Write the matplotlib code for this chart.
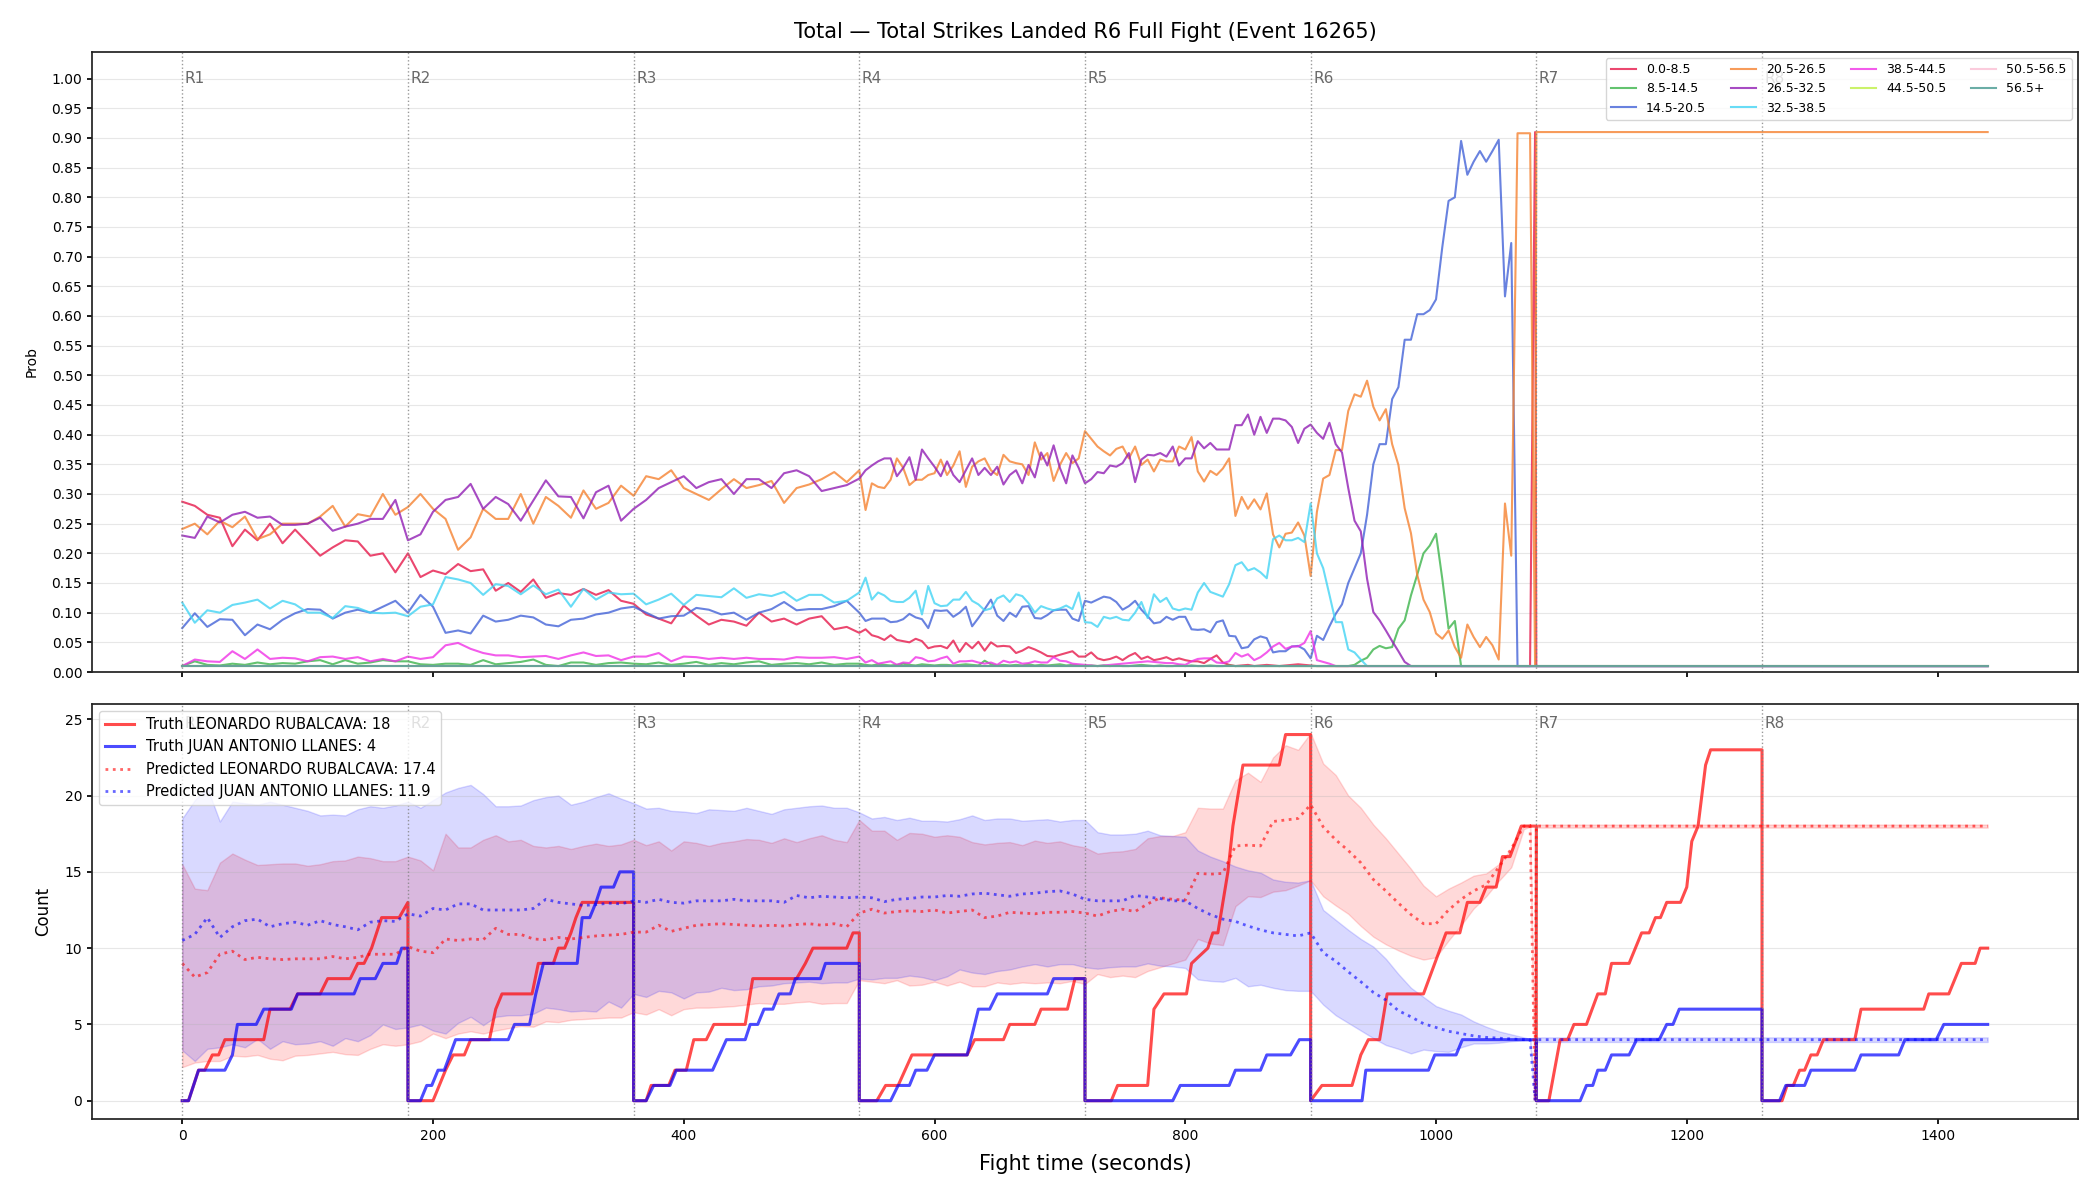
import matplotlib
matplotlib.use('Agg')
import matplotlib.pyplot as plt

plt.rcParams['axes.linewidth'] = 1.25
plt.rcParams['xtick.major.width'] = 1.25
plt.rcParams['ytick.major.width'] = 1.25
plt.rcParams['axes.edgecolor'] = '#222222'

title = 'Total \u2014 Total Strikes Landed R6 Full Fight (Event 16265)'
rounds = [0, 180, 360, 540, 720, 900, 1080, 1260]

bins = ['0.0-8.5', '8.5-14.5', '14.5-20.5', '20.5-26.5', '26.5-32.5',
        '32.5-38.5', '38.5-44.5', '44.5-50.5', '50.5-56.5', '56.5+']
bin_colors = ['#e6194b', '#3cb44b', '#4363d8', '#f58231', '#911eb4',
              '#42d4f4', '#f032e6', '#bfef45', '#fabed4', '#469990']

# probability time grid: 10 s for R1-R3, 5 s afterwards, then the tail
t_prob = list(range(0, 540, 10)) + list(range(540, 1080, 5)) + [1079, 1080, 1440]

p_0_8 = [0.287, 0.28, 0.265, 0.26, 0.212, 0.24, 0.222, 0.25, 0.217, 0.24,
         0.218, 0.196, 0.21, 0.222, 0.22, 0.196, 0.20, 0.168, 0.20, 0.16,
         0.171, 0.165, 0.182, 0.17, 0.173, 0.137, 0.15, 0.135, 0.156, 0.125,
         0.133, 0.13, 0.14, 0.13, 0.138, 0.12, 0.115, 0.097, 0.09, 0.082,
         0.112, 0.095, 0.08, 0.088, 0.085, 0.078, 0.10, 0.085, 0.09, 0.08,
         0.09, 0.094, 0.072, 0.076] + \
        [0.066, 0.072, 0.062, 0.059, 0.054, 0.062, 0.054, 0.052, 0.05, 0.056,
         0.052, 0.04, 0.043, 0.044, 0.04, 0.053, 0.034, 0.049, 0.04, 0.051,
         0.036, 0.05, 0.043, 0.044, 0.043, 0.032, 0.036, 0.042, 0.038, 0.033,
         0.027, 0.026, 0.029, 0.032, 0.035, 0.026, 0.026, 0.033, 0.023, 0.02,
         0.022, 0.026, 0.02, 0.027, 0.032, 0.022, 0.026, 0.02, 0.022, 0.025,
         0.02, 0.023, 0.02, 0.018, 0.018, 0.015, 0.022, 0.028, 0.016, 0.012,
         0.01, 0.011, 0.012, 0.01, 0.011, 0.012, 0.011, 0.01, 0.011, 0.012,
         0.013, 0.012, 0.011, 0.01, 0.01, 0.01, 0.01, 0.01, 0.01, 0.01] + \
        [0.01] * 28 + [0.91, 0.01, 0.01]

p_8_14 = [0.01, 0.018, 0.012, 0.011, 0.014, 0.012, 0.016, 0.013, 0.015, 0.014,
          0.018, 0.02, 0.013, 0.02, 0.014, 0.016, 0.02, 0.018, 0.018, 0.013,
          0.012, 0.014, 0.014, 0.012, 0.02, 0.013, 0.015, 0.017, 0.021, 0.012,
          0.01, 0.016, 0.016, 0.012, 0.015, 0.016, 0.014, 0.013, 0.016, 0.012,
          0.014, 0.017, 0.012, 0.015, 0.013, 0.016, 0.018, 0.012, 0.014, 0.015,
          0.013, 0.016, 0.012, 0.014] + \
         [0.014, 0.012, 0.011, 0.013, 0.012, 0.011, 0.012, 0.014, 0.012, 0.011,
          0.013, 0.012, 0.011, 0.012, 0.012, 0.011, 0.012, 0.013, 0.012, 0.011,
          0.019, 0.013, 0.011, 0.012, 0.011, 0.012, 0.011, 0.013, 0.011, 0.012,
          0.011, 0.012, 0.013, 0.011, 0.012, 0.011, 0.01, 0.011, 0.01, 0.011,
          0.01, 0.011, 0.01, 0.01, 0.011, 0.012, 0.011, 0.01, 0.011, 0.01,
          0.01, 0.011, 0.01, 0.011, 0.01, 0.01, 0.011, 0.01, 0.01, 0.011,
          0.01, 0.01, 0.01, 0.01, 0.01, 0.01, 0.01, 0.01, 0.01, 0.01,
          0.01, 0.01, 0.01, 0.01, 0.01, 0.01, 0.01, 0.01, 0.01, 0.012,
          0.019, 0.024, 0.038, 0.044, 0.04, 0.042, 0.073, 0.087, 0.129, 0.164,
          0.20, 0.213, 0.233, 0.157, 0.073, 0.086, 0.01, 0.01, 0.01, 0.01] + \
         [0.01] * 8 + [0.01, 0.01, 0.01]

p_14_20 = [0.074, 0.099, 0.076, 0.089, 0.088, 0.062, 0.08, 0.072, 0.088, 0.099,
           0.106, 0.105, 0.09, 0.10, 0.105, 0.10, 0.11, 0.12, 0.10, 0.13,
           0.11, 0.066, 0.07, 0.065, 0.095, 0.085, 0.088, 0.095, 0.092, 0.08,
           0.077, 0.088, 0.09, 0.097, 0.10, 0.107, 0.11, 0.10, 0.09, 0.094,
           0.095, 0.108, 0.105, 0.097, 0.10, 0.088, 0.10, 0.106, 0.118, 0.104,
           0.106, 0.106, 0.111, 0.12] + \
          [0.10, 0.086, 0.09, 0.09, 0.09, 0.084, 0.085, 0.089, 0.098, 0.092,
           0.089, 0.074, 0.104, 0.103, 0.104, 0.093, 0.10, 0.11, 0.077, 0.091,
           0.106, 0.122, 0.095, 0.086, 0.10, 0.093, 0.11, 0.111, 0.091, 0.09,
           0.096, 0.104, 0.105, 0.105, 0.09, 0.086, 0.12, 0.117, 0.122, 0.127,
           0.125, 0.118, 0.105, 0.111, 0.12, 0.105, 0.094, 0.082, 0.084, 0.093,
           0.088, 0.093, 0.093, 0.072, 0.071, 0.072, 0.067, 0.084, 0.087, 0.061,
           0.06, 0.04, 0.042, 0.055, 0.06, 0.057, 0.033, 0.035, 0.035, 0.043,
           0.044, 0.038, 0.023, 0.061, 0.054, 0.077, 0.098, 0.114, 0.15, 0.175,
           0.20, 0.265, 0.35, 0.384, 0.384, 0.46, 0.48, 0.56, 0.56, 0.603,
           0.603, 0.61, 0.628, 0.716, 0.794, 0.80, 0.895, 0.838, 0.86, 0.878,
           0.86, 0.878, 0.897, 0.633, 0.723, 0.01, 0.01, 0.01] + \
          [0.01, 0.01, 0.01]

p_20_26 = [0.241, 0.25, 0.232, 0.255, 0.244, 0.262, 0.224, 0.232, 0.25, 0.25,
           0.25, 0.262, 0.28, 0.245, 0.266, 0.262, 0.30, 0.265, 0.278, 0.30,
           0.275, 0.258, 0.206, 0.227, 0.275, 0.258, 0.258, 0.30, 0.25, 0.295,
           0.28, 0.26, 0.306, 0.275, 0.285, 0.314, 0.297, 0.33, 0.325, 0.34,
           0.31, 0.30, 0.29, 0.308, 0.325, 0.31, 0.315, 0.322, 0.285, 0.31,
           0.316, 0.325, 0.337, 0.32] + \
          [0.34, 0.273, 0.318, 0.312, 0.31, 0.324, 0.36, 0.344, 0.315, 0.324,
           0.324, 0.332, 0.335, 0.358, 0.332, 0.348, 0.372, 0.312, 0.346, 0.355,
           0.36, 0.34, 0.332, 0.366, 0.355, 0.352, 0.35, 0.332, 0.387, 0.358,
           0.369, 0.322, 0.349, 0.369, 0.352, 0.36, 0.406, 0.393, 0.38, 0.372,
           0.365, 0.376, 0.38, 0.36, 0.38, 0.349, 0.358, 0.338, 0.358, 0.355,
           0.355, 0.38, 0.375, 0.396, 0.338, 0.321, 0.339, 0.332, 0.343, 0.36,
           0.263, 0.295, 0.275, 0.291, 0.274, 0.301, 0.232, 0.21, 0.233, 0.235,
           0.252, 0.23, 0.162, 0.27, 0.326, 0.332, 0.374, 0.374, 0.44, 0.468,
           0.464, 0.491, 0.447, 0.424, 0.443, 0.384, 0.349, 0.276, 0.234, 0.164,
           0.122, 0.101, 0.065, 0.056, 0.07, 0.042, 0.024, 0.08, 0.059, 0.042,
           0.059, 0.045, 0.021, 0.284, 0.196, 0.908, 0.908, 0.908] + \
          [0.01, 0.91, 0.91]

p_26_32 = [0.23, 0.226, 0.262, 0.252, 0.265, 0.27, 0.26, 0.262, 0.248, 0.248,
           0.25, 0.26, 0.238, 0.245, 0.25, 0.258, 0.258, 0.29, 0.222, 0.232,
           0.27, 0.29, 0.295, 0.317, 0.275, 0.295, 0.283, 0.255, 0.289, 0.323,
           0.296, 0.295, 0.259, 0.303, 0.314, 0.255, 0.275, 0.29, 0.31, 0.32,
           0.33, 0.31, 0.32, 0.325, 0.30, 0.325, 0.325, 0.31, 0.335, 0.34,
           0.33, 0.305, 0.31, 0.315] + \
          [0.326, 0.34, 0.348, 0.355, 0.36, 0.36, 0.33, 0.344, 0.362, 0.324,
           0.375, 0.36, 0.346, 0.33, 0.355, 0.332, 0.32, 0.34, 0.36, 0.332,
           0.344, 0.332, 0.346, 0.316, 0.332, 0.34, 0.318, 0.349, 0.328, 0.37,
           0.348, 0.382, 0.344, 0.318, 0.365, 0.344, 0.318, 0.325, 0.337, 0.335,
           0.348, 0.346, 0.352, 0.369, 0.32, 0.358, 0.366, 0.365, 0.369, 0.363,
           0.38, 0.348, 0.36, 0.36, 0.389, 0.377, 0.386, 0.375, 0.375, 0.375,
           0.416, 0.416, 0.434, 0.40, 0.43, 0.403, 0.427, 0.427, 0.424, 0.413,
           0.386, 0.41, 0.417, 0.403, 0.393, 0.42, 0.384, 0.37, 0.31, 0.255,
           0.237, 0.157, 0.101, 0.087, 0.07, 0.052, 0.035, 0.017, 0.01, 0.01] + \
          [0.01] * 18 + [0.01, 0.01, 0.01]

p_32_38 = [0.117, 0.083, 0.104, 0.10, 0.113, 0.117, 0.122, 0.107, 0.12, 0.114,
           0.10, 0.10, 0.091, 0.111, 0.108, 0.10, 0.099, 0.10, 0.094, 0.11,
           0.114, 0.16, 0.156, 0.15, 0.13, 0.148, 0.145, 0.131, 0.146, 0.131,
           0.139, 0.11, 0.14, 0.122, 0.134, 0.131, 0.132, 0.114, 0.122, 0.132,
           0.113, 0.13, 0.128, 0.126, 0.141, 0.125, 0.131, 0.128, 0.135, 0.12,
           0.13, 0.13, 0.117, 0.12] + \
          [0.134, 0.159, 0.122, 0.134, 0.129, 0.12, 0.118, 0.118, 0.125, 0.137,
           0.097, 0.145, 0.116, 0.111, 0.112, 0.122, 0.122, 0.135, 0.12, 0.114,
           0.104, 0.107, 0.124, 0.129, 0.118, 0.131, 0.128, 0.116, 0.10, 0.111,
           0.107, 0.104, 0.107, 0.112, 0.106, 0.134, 0.084, 0.083, 0.076, 0.093,
           0.09, 0.093, 0.088, 0.087, 0.10, 0.118, 0.091, 0.131, 0.118, 0.125,
           0.107, 0.104, 0.107, 0.105, 0.134, 0.15, 0.135, 0.131, 0.127, 0.148,
           0.18, 0.185, 0.171, 0.175, 0.168, 0.158, 0.224, 0.23, 0.222, 0.222,
           0.226, 0.219, 0.284, 0.20, 0.175, 0.13, 0.084, 0.084, 0.038, 0.033,
           0.021, 0.01, 0.01, 0.01, 0.01, 0.01, 0.01, 0.01, 0.01, 0.01] + \
          [0.01] * 18 + [0.01, 0.01, 0.01]

p_38_44 = [0.01, 0.021, 0.018, 0.017, 0.035, 0.022, 0.038, 0.022, 0.024, 0.023,
           0.018, 0.025, 0.026, 0.022, 0.025, 0.018, 0.022, 0.018, 0.026, 0.022,
           0.025, 0.045, 0.049, 0.039, 0.032, 0.028, 0.028, 0.025, 0.026, 0.027,
           0.022, 0.028, 0.033, 0.027, 0.028, 0.02, 0.026, 0.026, 0.032, 0.018,
           0.026, 0.025, 0.022, 0.024, 0.022, 0.024, 0.022, 0.022, 0.021, 0.025,
           0.024, 0.024, 0.025, 0.022] + \
          [0.026, 0.016, 0.02, 0.014, 0.016, 0.018, 0.012, 0.016, 0.015, 0.025,
           0.023, 0.018, 0.019, 0.023, 0.026, 0.014, 0.018, 0.018, 0.019, 0.016,
           0.014, 0.016, 0.012, 0.019, 0.016, 0.018, 0.014, 0.015, 0.018, 0.016,
           0.016, 0.025, 0.019, 0.018, 0.014, 0.013, 0.012, 0.011, 0.01, 0.011,
           0.012, 0.013, 0.014, 0.015, 0.016, 0.017, 0.018, 0.017, 0.016, 0.015,
           0.015, 0.013, 0.012, 0.018, 0.022, 0.023, 0.023, 0.016, 0.015, 0.018,
           0.032, 0.026, 0.03, 0.02, 0.025, 0.033, 0.043, 0.049, 0.039, 0.043,
           0.043, 0.049, 0.069, 0.02, 0.017, 0.014, 0.01, 0.01, 0.01, 0.01] + \
          [0.01] * 28 + [0.01, 0.01, 0.01]

p_44_50 = [0.01] * len(t_prob)
p_50_56 = [0.01] * len(t_prob)
p_56_up = [0.01] * len(t_prob)

prob_series = [p_0_8, p_8_14, p_14_20, p_20_26, p_26_32,
               p_32_38, p_38_44, p_44_50, p_50_56, p_56_up]
for s in prob_series:
    assert len(s) == len(t_prob), len(s)

# truth counts (vertices of the cumulative count line, reset each round)
red_truth_t = [0, 5, 13, 18, 24, 29, 34, 65, 70, 86, 92, 110, 116, 134, 140, 145, 151, 155, 159, 173, 180, 180] + \
              [200, 205, 210, 216, 225, 230, 245, 250, 255, 279, 284, 296, 300, 305, 310, 314, 319, 360, 360] + \
              [370, 374, 388, 393, 402, 408, 418, 424, 449, 455, 490, 497, 503, 530, 535, 540, 540] + \
              [554, 561, 571, 582, 626, 632, 655, 660, 680, 685, 706, 712, 720, 720] + \
              [741, 746, 770, 775, 783, 801, 805, 818, 822, 826, 830, 834, 838, 842, 846, 875, 880, 900, 900] + \
              [909, 933, 940, 946, 955, 961, 990, 1008, 1019, 1025, 1035, 1040, 1048, 1053, 1059, 1068, 1080, 1080] + \
              [1090, 1099, 1105, 1110, 1120, 1129, 1135, 1140, 1154, 1164, 1170, 1175, 1179, 1184, 1195, 1200, 1204,
               1209, 1215, 1219, 1260, 1260] + \
              [1276, 1280, 1285, 1290, 1294, 1299, 1304, 1309, 1334, 1339, 1389, 1393, 1409, 1419, 1430, 1434, 1440]
red_truth_v = [0, 0, 2, 2, 3, 3, 4, 4, 6, 6, 7, 7, 8, 8, 9, 9, 10, 11, 12, 12, 13, 0] + \
              [0, 1, 2, 3, 3, 4, 4, 6, 7, 7, 9, 9, 10, 10, 11, 12, 13, 13, 0] + \
              [0, 1, 1, 2, 2, 4, 4, 5, 5, 8, 8, 9, 10, 10, 11, 11, 0] + \
              [0, 1, 1, 3, 3, 4, 4, 5, 5, 6, 6, 8, 8, 0] + \
              [0, 1, 1, 6, 7, 7, 9, 10, 11, 11, 13, 15, 18, 20, 22, 22, 24, 24, 0] + \
              [1, 1, 3, 4, 4, 7, 7, 11, 11, 13, 13, 14, 14, 16, 16, 18, 18, 0] + \
              [0, 4, 4, 5, 5, 7, 7, 9, 9, 11, 11, 12, 12, 13, 13, 14, 17, 18, 22, 23, 23, 0] + \
              [0, 1, 1, 2, 2, 3, 3, 4, 4, 6, 6, 7, 7, 9, 9, 10, 10]

blue_truth_t = [0, 5, 13, 34, 40, 44, 59, 65, 87, 92, 137, 142, 154, 160, 171, 175, 180, 180] + \
               [190, 195, 199, 204, 209, 218, 260, 265, 277, 282, 288, 315, 319, 325, 330, 334, 344, 349, 360, 360] + \
               [370, 376, 389, 394, 423, 434, 449, 453, 459, 464, 471, 476, 485, 489, 509, 513, 540, 540] + \
               [565, 571, 580, 585, 594, 600, 626, 635, 644, 650, 690, 695, 720, 720] + \
               [790, 796, 835, 840, 860, 865, 884, 891, 900, 900] + \
               [941, 944, 994, 999, 1016, 1021, 1080, 1080] + \
               [1115, 1120, 1125, 1129, 1135, 1140, 1154, 1160, 1178, 1184, 1189, 1194, 1260, 1260] + \
               [1274, 1279, 1294, 1299, 1334, 1339, 1369, 1374, 1399, 1405, 1440]
blue_truth_v = [0, 0, 2, 2, 3, 5, 5, 6, 6, 7, 7, 8, 8, 9, 9, 10, 10, 0] + \
               [0, 1, 1, 2, 2, 4, 4, 5, 5, 7, 9, 9, 12, 12, 13, 14, 14, 15, 15, 0] + \
               [0, 1, 1, 2, 2, 4, 4, 5, 5, 6, 6, 7, 7, 8, 8, 9, 9, 0] + \
               [0, 1, 1, 2, 2, 3, 3, 6, 6, 7, 7, 8, 8, 0] + \
               [0, 1, 1, 2, 2, 3, 3, 4, 4, 0] + \
               [0, 2, 2, 3, 3, 4, 4, 0] + \
               [0, 1, 1, 2, 2, 3, 3, 4, 4, 5, 5, 6, 6, 0] + \
               [0, 1, 1, 2, 2, 3, 3, 4, 4, 5, 5]
assert len(red_truth_t) == len(red_truth_v)
assert len(blue_truth_t) == len(blue_truth_v)

# predicted means and bands, 10 s grid
t_pred = list(range(0, 1080, 10)) + [1075, 1079, 1080, 1440]

red_pred = [9.0, 8.1, 8.4, 9.6, 9.8, 9.25, 9.4, 9.3, 9.25, 9.3,
            9.3, 9.3, 9.45, 9.3, 9.4, 9.6, 9.6, 9.6, 10.1, 9.8,
            9.7, 10.6, 10.5, 10.6, 10.55, 11.3, 10.9, 10.9, 10.6, 10.55,
            10.7, 10.6, 10.7, 10.8, 10.85, 10.9, 11.05, 11.05, 11.5, 11.1,
            11.3, 11.5, 11.55, 11.6, 11.55, 11.5, 11.45, 11.5, 11.45, 11.55,
            11.6, 11.5, 11.6, 11.4, 12.3, 12.55, 12.3, 12.4, 12.45, 12.4,
            12.5, 12.3, 12.4, 12.5, 12.0, 12.1, 12.35, 12.3, 12.25, 12.35,
            12.35, 12.4, 12.3, 12.1, 12.4, 12.55, 12.4, 12.9, 13.3, 13.2,
            13.15, 14.9, 14.85, 14.9, 16.7, 16.75, 16.7, 18.3, 18.4, 18.5,
            19.4, 17.95, 17.1, 16.4, 15.6, 14.5, 13.75, 12.95, 12.2, 11.6,
            11.6, 12.5, 13.2, 13.75, 14.15, 15.3, 16.5, 18.0,
            18.05, 0.0, 18.0, 18.0]
blue_pred = [10.5, 10.9, 12.0, 10.7, 11.4, 11.8, 11.9, 11.4, 11.6, 11.7,
             11.5, 11.8, 11.55, 11.4, 11.2, 11.7, 11.8, 11.75, 12.25, 12.1,
             12.6, 12.5, 12.9, 12.9, 12.5, 12.5, 12.5, 12.5, 12.6, 13.2,
             13.0, 12.9, 12.8, 12.85, 12.95, 12.9, 13.1, 13.0, 13.2, 13.0,
             12.95, 13.1, 13.1, 13.1, 13.2, 13.1, 13.1, 13.1, 13.0, 13.45,
             13.3, 13.4, 13.35, 13.3, 13.35, 13.3, 13.05, 13.2, 13.25, 13.35,
             13.35, 13.45, 13.4, 13.55, 13.6, 13.5, 13.4, 13.55, 13.6, 13.7,
             13.75, 13.55, 13.2, 13.1, 13.1, 13.1, 13.45, 13.35, 13.25, 13.1,
             13.1, 12.6, 12.2, 11.9, 11.75, 11.45, 11.2, 11.0, 10.9, 10.8,
             11.0, 9.7, 9.15, 8.45, 7.8, 7.1, 6.6, 5.9, 5.5, 5.05,
             4.8, 4.55, 4.4, 4.25, 4.15, 4.1, 4.05, 4.0,
             4.0, 0.0, 4.0, 4.0]
red_hi = [15.5, 13.9, 13.8, 15.6, 16.2, 15.8, 15.45, 15.5, 15.55, 15.55,
          15.4, 15.5, 15.7, 15.75, 16.0, 15.9, 15.7, 15.7, 16.0, 15.75,
          15.1, 17.5, 16.6, 16.6, 17.1, 17.4, 17.0, 17.1, 16.7, 16.6,
          16.7, 16.5, 16.7, 16.85, 16.7, 16.8, 17.1, 16.75, 17.0, 16.4,
          17.0, 16.9, 16.7, 16.9, 17.0, 17.15, 17.1, 16.9, 17.2, 16.95,
          17.2, 17.4, 17.1, 16.95, 18.4, 17.7, 17.7, 17.1, 17.55, 17.5,
          17.3, 17.4, 17.3, 16.95, 16.8, 16.9, 16.95, 16.75, 17.05, 16.9,
          17.0, 16.75, 16.6, 16.2, 16.3, 16.35, 16.5, 17.2, 17.35, 17.35,
          17.6, 19.2, 19.15, 19.15, 21.0, 21.5, 20.9, 22.5, 23.3, 23.0,
          24.1, 22.1, 21.35, 20.0, 19.2, 18.1, 17.2, 16.2, 15.2, 14.1,
          13.4, 13.9, 14.3, 14.75, 14.9, 15.5, 16.5, 18.05,
          18.1, 0.0, 18.1, 18.1]
red_lo = [2.2, 2.5, 2.6, 2.6, 2.95, 2.9, 3.0, 2.75, 2.65, 2.95,
          3.0, 3.1, 3.2, 3.05, 3.0, 3.4, 3.7, 3.6, 3.7, 3.9,
          4.4, 4.1, 4.4, 4.55, 4.4, 4.6, 4.75, 4.9, 4.85, 5.2,
          5.15, 5.3, 5.35, 5.4, 5.45, 5.45, 5.8, 5.65, 6.0, 5.6,
          6.0, 6.1, 6.1, 6.15, 6.2, 6.3, 6.4, 6.35, 6.35, 6.45,
          6.5, 6.35, 6.4, 6.4, 7.9, 7.8, 7.7, 7.9, 7.55, 7.6,
          7.8, 7.55, 7.8, 7.5, 7.5, 7.75, 7.65, 7.75, 7.7, 7.75,
          7.7, 7.85, 7.65, 8.3, 8.1, 8.2, 8.1, 8.5, 8.75, 9.0,
          9.25, 10.6, 10.3, 10.2, 12.75, 13.4, 13.35, 13.7, 13.8, 14.1,
          14.45, 13.4, 12.8, 12.25, 11.45, 10.75, 10.25, 9.85, 9.5, 9.25,
          9.4, 10.5, 11.5, 12.6, 13.4, 14.4, 15.3, 17.8,
          17.95, 0.0, 17.9, 17.9]
blue_hi = [18.5, 19.7, 20.5, 18.3, 19.6, 19.5, 19.4, 19.6, 19.4, 19.2,
           19.0, 18.7, 18.75, 18.7, 19.1, 19.3, 19.2, 19.35, 19.6, 19.2,
           19.7, 20.2, 20.5, 20.7, 20.1, 19.3, 19.3, 19.35, 19.7, 19.9,
           20.0, 19.4, 19.6, 19.9, 20.15, 19.8, 19.5, 19.15, 19.2, 19.0,
           18.95, 18.85, 19.1, 19.05, 19.0, 19.2, 19.0, 18.8, 19.1, 19.2,
           19.3, 19.35, 19.2, 19.2, 18.9, 18.5, 18.6, 18.4, 18.55, 18.35,
           18.35, 18.3, 18.45, 18.7, 18.4, 18.5, 18.5, 18.35, 18.4, 18.45,
           18.3, 18.4, 18.4, 17.6, 17.45, 17.45, 17.5, 17.7, 17.4, 17.35,
           17.3, 16.4, 16.0, 15.7, 15.35, 15.1, 14.95, 14.5, 14.35, 14.3,
           14.45, 12.5, 11.85, 11.2, 10.6, 10.1, 9.3, 8.3, 7.4, 6.8,
           6.2, 5.9, 5.65, 5.2, 4.85, 4.55, 4.35, 4.15,
           4.05, 0.0, 4.15, 4.15]
blue_lo = [3.3, 2.6, 3.4, 3.5, 3.7, 3.5, 4.05, 3.4, 3.9, 3.7,
           3.75, 3.9, 3.6, 4.1, 3.9, 4.3, 5.0, 4.7, 4.8, 5.0,
           4.6, 4.4, 5.1, 5.5, 4.95, 5.5, 5.6, 5.6, 5.7, 6.1,
           6.0, 5.85, 5.9, 5.85, 6.5, 6.1, 7.0, 6.8, 7.2, 7.1,
           6.7, 7.1, 7.15, 7.4, 7.25, 7.3, 7.5, 7.55, 7.7, 7.75,
           7.8, 7.7, 7.75, 7.75, 8.0, 7.95, 8.05, 8.05, 8.2, 8.1,
           7.9, 8.15, 8.6, 8.4, 8.3, 8.5, 8.6, 8.8, 8.95, 8.8,
           8.95, 8.95, 8.75, 8.65, 8.75, 8.8, 8.8, 9.0, 8.85, 8.8,
           8.7, 7.95, 7.85, 7.8, 8.05, 7.5, 7.6, 7.4, 7.25, 7.2,
           7.2, 6.3, 5.6, 5.1, 4.6, 4.1, 3.65, 3.4, 3.1, 3.35,
           3.25, 3.2, 3.5, 3.75, 3.75, 3.8, 3.9, 3.95,
           3.95, 0.0, 3.85, 3.85]
for s in [red_pred, blue_pred, red_hi, red_lo, blue_hi, blue_lo]:
    assert len(s) == len(t_pred), len(s)

fighter_red = 'LEONARDO RUBALCAVA'
fighter_blue = 'JUAN ANTONIO LLANES'

fig = plt.figure(figsize=(21, 12), dpi=100)
ax1 = fig.add_axes([0.0438, 0.44, 0.9457, 0.5167])
ax2 = fig.add_axes([0.0438, 0.0675, 0.9457, 0.3458], sharex=ax1)

for name, col, vals in zip(bins, bin_colors, prob_series):
    ax1.plot(t_prob, vals, color=col, lw=1.5, alpha=0.8, label=name)

ax2.fill_between(t_pred, red_lo, red_hi, color='red', alpha=0.15)
ax2.fill_between(t_pred, blue_lo, blue_hi, color='blue', alpha=0.15)
ax2.plot(red_truth_t, red_truth_v, color='red', lw=2.2, alpha=0.7,
         label=f'Truth {fighter_red}: 18')
ax2.plot(blue_truth_t, blue_truth_v, color='blue', lw=2.2, alpha=0.7,
         label=f'Truth {fighter_blue}: 4')
ax2.plot(t_pred, red_pred, color='red', ls=':', lw=2, alpha=0.6,
         label=f'Predicted {fighter_red}: 17.4')
ax2.plot(t_pred, blue_pred, color='blue', ls=':', lw=2, alpha=0.6,
         label=f'Predicted {fighter_blue}: 11.9')

for ax in (ax1, ax2):
    for i, r in enumerate(rounds):
        ax.axvline(r, color='gray', ls=':', lw=1, alpha=0.8)
        ax.text(r + 2, 0.97, f'R{i + 1}', transform=ax.get_xaxis_transform(),
                va='top', ha='left', color='dimgray', fontsize=11)
    ax.grid(axis='y', alpha=0.3)

ax1.set_ylim(0, 1.045)
ax1.set_yticks([i * 0.05 for i in range(21)])
ax1.set_yticklabels([f'{i * 0.05:.2f}' for i in range(21)])
ax1.set_ylabel('Prob', fontsize=10, labelpad=9)
ax1.set_title(title, fontsize=15, pad=10)
ax1.legend(loc='upper right', ncol=4, fontsize=9)
ax1.tick_params(labelbottom=False)

ax2.set_xlim(-72, 1512)
ax2.set_ylim(-1.2, 26.0)
ax2.set_ylabel('Count', fontsize=12, labelpad=9)
ax2.set_xlabel('Fight time (seconds)', fontsize=15, labelpad=8)
ax2.legend(loc='upper left', fontsize=10.5)

fig.savefig('out.png', dpi=100)
